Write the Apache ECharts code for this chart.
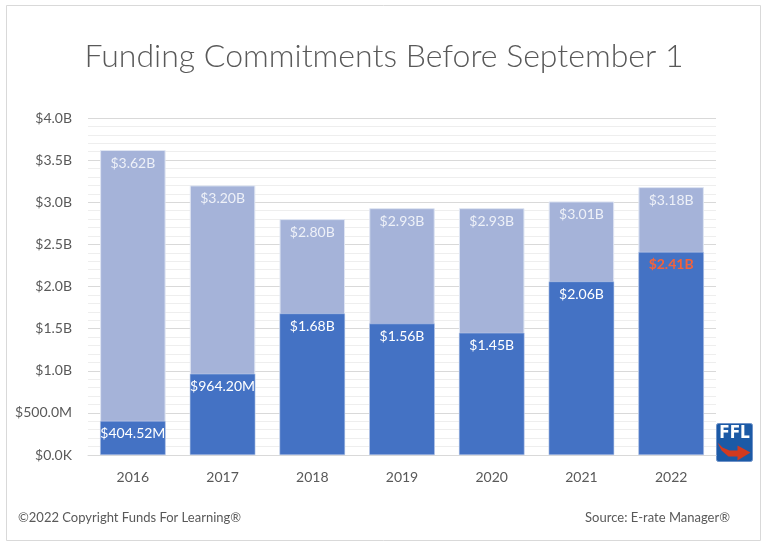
<!DOCTYPE html>
<html><head><meta charset="utf-8">
<script src="https://cdn.jsdelivr.net/npm/echarts@6/dist/echarts.min.js"></script>
<style>html,body{margin:0;padding:0;background:#fff}#c{width:768px;height:546px}</style>
</head><body><div id="c"></div>
<script>
const years = ['2016','2017','2018','2019','2020','2021','2022'];
const totalCommitments = [3.62e9, 3.20e9, 2.80e9, 2.93e9, 2.93e9, 3.01e9, 3.18e9];
const beforeSept1 = [404.52e6, 964.20e6, 1.68e9, 1.56e9, 1.45e9, 2.06e9, 2.41e9];
const yTicks = [0, 0.5e9, 1e9, 1.5e9, 2e9, 2.5e9, 3e9, 3.5e9, 4e9];

function money(v, axis) {
  if (v === 0) return '$0.0K';
  if (v < 1e9) return '$' + (v / 1e6).toFixed(axis ? 1 : 2) + 'M';
  return '$' + (v / 1e9).toFixed(axis ? 1 : 2) + 'B';
}
const FONT = 'Lato, "Open Sans", sans-serif';
const chart = echarts.init(document.getElementById('c'), null, {renderer: 'canvas'});
chart.setOption({
  animation: false,
  backgroundColor: '#fff',
  title: {
    text: 'Funding Commitments Before September 1',
    left: 'center', top: 36,
    textStyle: {fontFamily: FONT, fontWeight: 300, fontSize: 32, color: '#595959'}
  },
  grid: {left: 88, right: 52, top: 118, bottom: 91},
  xAxis: {
    type: 'category', data: years,
    axisLine: {lineStyle: {color: '#d9d9d9'}},
    axisTick: {show: false},
    axisLabel: {color: '#595959', fontFamily: FONT, fontSize: 14, margin: 15}
  },
  yAxis: {
    type: 'value', min: yTicks[0], max: yTicks[yTicks.length - 1], interval: 0.5e9,
    axisLine: {show: false}, axisTick: {show: false},
    axisLabel: {color: '#595959', fontFamily: FONT, fontSize: 14, margin: 16, formatter: v => money(v, true)},
    splitLine: {lineStyle: {color: '#d9d9d9'}},
    minorTick: {show: false, splitNumber: 5},
    minorSplitLine: {show: true, lineStyle: {color: '#eeeeee'}}
  },
  series: [
    {
      type: 'bar', data: totalCommitments, barCategoryGap: '27%', barGap: '-100%',
      itemStyle: {color: '#a5b3d9', borderColor: '#dfe5f2', borderWidth: 1},
      label: {show: true, position: 'insideTop', distance: 6, color: '#eef1f8', fontFamily: FONT, fontSize: 14,
        formatter: p => money(p.value, false)},
      z: 2
    },
    {
      type: 'bar', data: beforeSept1.map((v, i) => i === 6 ? {value: v, label: {color: '#f4623a', fontWeight: 'bold'}} : v),
      barCategoryGap: '27%', barGap: '-100%',
      itemStyle: {color: '#4472c4', borderColor: '#c9d4ec', borderWidth: 0.5},
      label: {show: true, position: 'insideTop', distance: 6, color: '#ffffff', fontFamily: FONT, fontSize: 14,
        formatter: p => money(p.value, false)},
      z: 3
    }
  ],
  graphic: [
    {type: 'rect', shape: {x: 6.5, y: 5.5, width: 754, height: 535}, style: {fill: 'none', stroke: '#d9d9d9', lineWidth: 1}, silent: true, z: -1},
    {type: 'text', left: 18, top: 511, style: {text: '©2022 Copyright Funds For Learning®', fill: '#595959', font: '13px ' + FONT}},
    {type: 'text', right: 38, top: 511, style: {text: 'Source: E-rate Manager®', fill: '#595959', font: '13px ' + FONT}},
    {type: 'group', left: 716, top: 423, children: [
      {type: 'rect', shape: {x: 0, y: 0, width: 36, height: 38, r: 2}, style: {fill: '#1c5aa6', stroke: '#6f93c9', lineWidth: 1}},
      {type: 'text', x: 18, y: 2, style: {text: 'FFL', fill: '#fff', font: 'bold 17px "DejaVu Sans Condensed", "Liberation Sans Narrow", sans-serif', textAlign: 'center'}},
      {type: 'polygon', shape: {points: [[1,19],[6,24],[13,27],[21,27],[21,22],[34,29],[21,37],[21,33],[12,33],[5,27]]}, style: {fill: '#d33a1f'}}
    ]}
  ]
});
</script></body></html>
